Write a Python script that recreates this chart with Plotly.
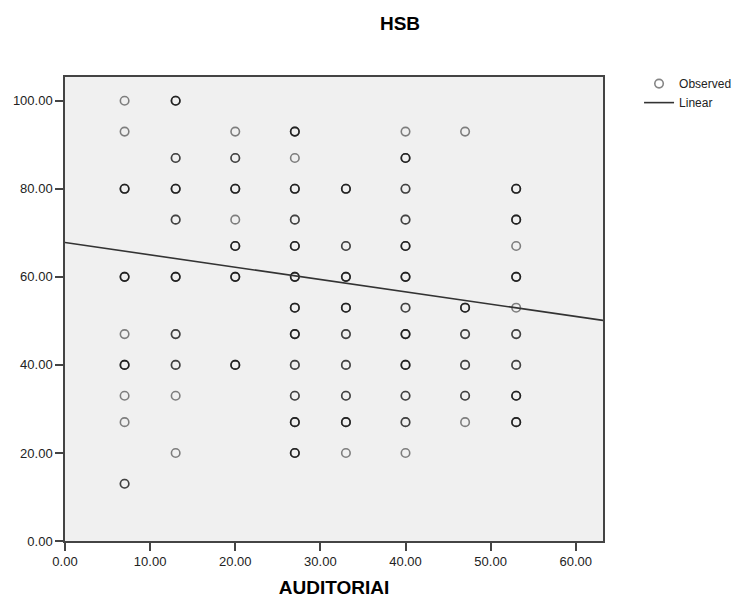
import plotly.graph_objects as go

# Observed points: (x, y, multiplicity) (darker = more overlaps)
obs_x = [7, 7, 7, 7, 7, 7, 7, 7, 7,
         13, 13, 13, 13, 13, 13, 13, 13, 13,
         20, 20, 20, 20, 20, 20, 20,
         27, 27, 27, 27, 27, 27, 27, 27, 27, 27, 27, 27,
         33, 33, 33, 33, 33, 33, 33, 33, 33,
         40, 40, 40, 40, 40, 40, 40, 40, 40, 40, 40, 40,
         47, 47, 47, 47, 47, 47,
         53, 53, 53, 53, 53, 53, 53, 53, 53]
obs_y = [100, 93, 80, 60, 47, 40, 33, 27, 13,
         100, 87, 80, 73, 60, 47, 40, 33, 20,
         93, 87, 80, 73, 67, 60, 40,
         93, 87, 80, 73, 67, 60, 53, 47, 40, 33, 27, 20,
         80, 67, 60, 53, 47, 40, 33, 27, 20,
         93, 87, 80, 73, 67, 60, 53, 47, 40, 33, 27, 20,
         93, 53, 47, 40, 33, 27,
         80, 73, 67, 60, 53, 47, 40, 33, 27]
obs_n = [1, 1, 3, 3, 1, 3, 1, 1, 2,
         3, 2, 3, 2, 3, 2, 2, 1, 1,
         1, 2, 3, 1, 3, 3, 3,
         3, 1, 3, 2, 3, 3, 3, 3, 2, 2, 3, 3,
         3, 2, 3, 3, 2, 2, 2, 3, 1,
         1, 3, 2, 2, 3, 3, 2, 3, 3, 2, 2, 1,
         1, 3, 2, 2, 2, 1,
         3, 3, 1, 3, 1, 2, 2, 3, 3]

# Linear fit coefficients
fit_intercept = 67.8
fit_slope = -0.28

x_range = [0, 63.2]
y_range = [0, 105.4]
x_ticks = [0, 10, 20, 30, 40, 50, 60]
y_ticks = [0, 20, 40, 60, 80, 100]

# Expand duplicates so overlapping translucent markers look darker
px_, py_ = [], []
for xv, yv, n in zip(obs_x, obs_y, obs_n):
    for _ in range(n):
        px_.append(xv)
        py_.append(yv)

fig = go.Figure()
fig.add_trace(go.Scatter(
    x=px_, y=py_, mode="markers", name="Observed",
    marker=dict(symbol="circle-open", size=8.5, color="rgba(0,0,0,0.48)",
                line=dict(width=1.6, color="rgba(0,0,0,0.48)")),
    hoverinfo="x+y",
))
fig.add_trace(go.Scatter(
    x=x_range, y=[fit_intercept + fit_slope * v for v in x_range],
    mode="lines", name="Linear", line=dict(color="#333333", width=1.6),
))

font = "Liberation Sans, Arial, sans-serif"
fig.update_layout(
    width=743, height=602,
    margin=dict(l=56.5, r=148, t=69, b=69),
    paper_bgcolor="white", plot_bgcolor="#f0f0f0",
    font=dict(family=font, size=13, color="#222222"),
    title=dict(text="<b>HSB</b>", x=392 / 743, xanchor="center", y=1 - 15 / 602,
               yanchor="middle", font=dict(family=font, size=19, color="black")),
    showlegend=True,
    legend=dict(x=1.067, y=1.017, xanchor="left", yanchor="top", bgcolor="rgba(0,0,0,0)",
                font=dict(family=font, size=12, color="#222222"),
                tracegroupgap=0, itemwidth=30),
    xaxis=dict(range=x_range, tickvals=x_ticks, tickformat=".2f", automargin=False,
               showgrid=False, zeroline=False, showline=True, mirror=True,
               linecolor="#444444", linewidth=1.5, ticks="outside", ticklen=8,
               tickcolor="#444444", tickwidth=1.5,
               title=dict(text="<b>AUDITORIAI</b>", font=dict(family=font, size=19, color="black"),
                          standoff=12)),
    yaxis=dict(range=y_range, tickvals=y_ticks, tickformat=".2f", automargin=False,
               showgrid=False, zeroline=False, showline=True, mirror=True,
               linecolor="#444444", linewidth=1.5, ticks="outside", ticklen=8,
               tickcolor="#444444", tickwidth=1.5),
)

fig.write_html("out.html")
